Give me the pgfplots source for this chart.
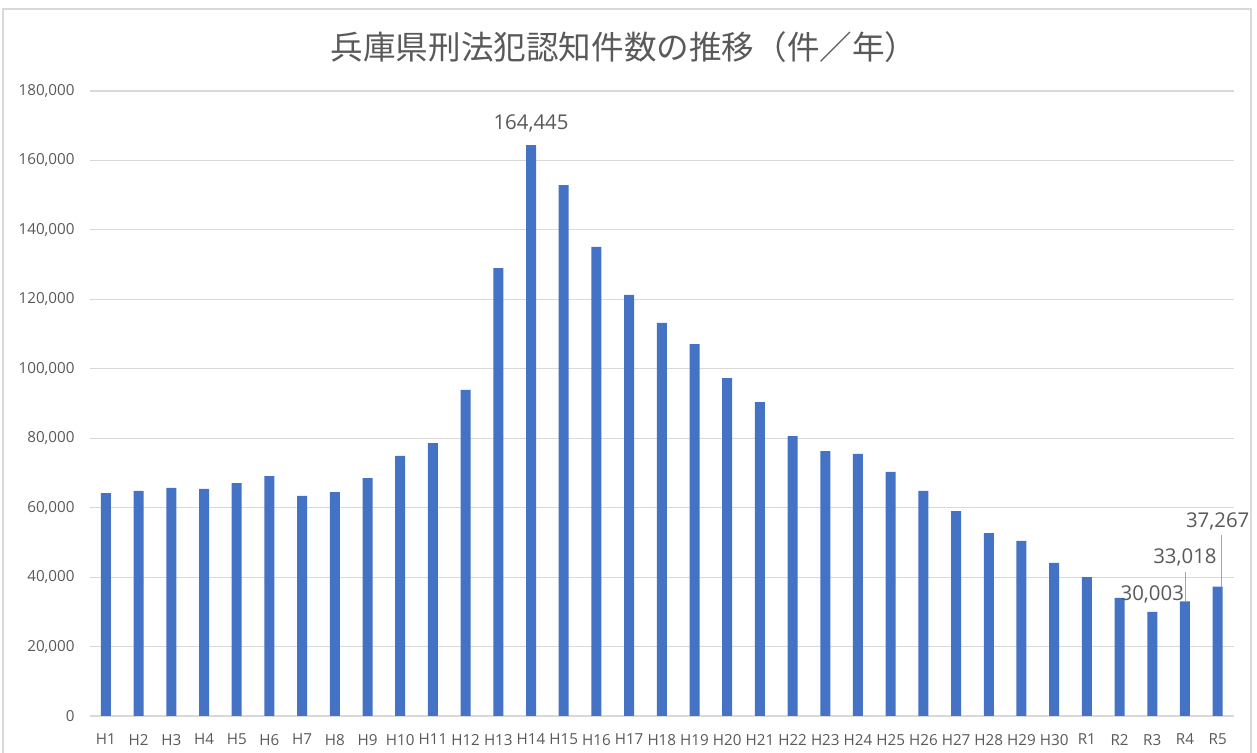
\documentclass[border=0pt]{standalone}
\usepackage{pgfplots}
\pgfplotsset{compat=1.18}
\usepackage{fontspec}
\setmainfont{Open Sans}
\newfontfamily\cjk{Noto Sans CJK JP}
\definecolor{barblue}{HTML}{4472C4}
\definecolor{txtgray}{HTML}{595959}
\definecolor{gridgray}{HTML}{D9D9D9}
\begin{document}
\begin{tikzpicture}[x=1pt,y=1pt]
\useasboundingbox (0,0) rectangle (628.5,376.5);
\draw[gridgray,line width=0.6pt] (1.5,-2) -- (1.5,372) -- (625.5,372) -- (625.5,-2);
\node[text=txtgray,font=\cjk\fontsize{16.3}{18}\selectfont] at (312,353) {兵庫県刑法犯認知件数の推移（件／年）};
\begin{axis}[
  at={(44.8pt,18.5pt)}, anchor=south west,
  scale only axis, width=572.2pt, height=312.5pt,
  xmin=-0.5, xmax=34.5, ymin=0, ymax=180000,
  ybar, bar width=5pt,
  axis line style={draw=none},
  axis x line*=bottom,
  x axis line style={draw=gridgray, line width=0.6pt},
  scaled y ticks=false,
  ytick={0,20000,40000,60000,80000,100000,120000,140000,160000,180000},
  yticklabels={0,{20,000},{40,000},{60,000},{80,000},{100,000},{120,000},{140,000},{160,000},{180,000}},
  xtick={0,...,34},
  xticklabels={H1,H2,H3,H4,H5,H6,H7,H8,H9,H10,H11,H12,H13,H14,H15,H16,H17,H18,H19,H20,H21,H22,H23,H24,H25,H26,H27,H28,H29,H30,R1,R2,R3,R4,R5},
  major tick length=0pt,
  ymajorgrids, grid style={gridgray, line width=0.6pt},
  tick label style={text=txtgray, font=\fontsize{7.6}{9}\selectfont},
  yticklabel style={anchor=east, xshift=-4pt},
  xticklabel style={anchor=north, yshift=-5.5pt},
  clip=false,
]
\addplot[fill=barblue, draw=none] coordinates {
(0,64200) (1,64800) (2,65700) (3,65400) (4,67100) (5,69100) (6,63400) (7,64500) (8,68500) (9,74900)
(10,78600) (11,93900) (12,129000) (13,164445) (14,152900) (15,135100) (16,121300) (17,113200) (18,107100) (19,97300)
(20,90400) (21,80600) (22,76300) (23,75500) (24,70300) (25,64800) (26,59000) (27,52700) (28,50400) (29,44100)
(30,40000) (31,34000) (32,30003) (33,33018) (34,37267)
};
\node[text=txtgray, font=\fontsize{10.2}{12}\selectfont, anchor=south] at (axis cs:13,164445) [yshift=3pt] {164,445};
\node[text=txtgray, font=\fontsize{10.2}{12}\selectfont, anchor=south] at (axis cs:32,30003) [yshift=1pt] {30,003};
\draw[gray!70, line width=0.4pt] (axis cs:33,33018) -- (axis cs:33,41600);
\node[text=txtgray, font=\fontsize{10.2}{12}\selectfont, anchor=south] at (axis cs:33,41600) [yshift=-1pt] {33,018};
\draw[gray!70, line width=0.4pt] (axis cs:34.1,37267) -- (axis cs:34.1,52000);
\node[text=txtgray, font=\fontsize{10.2}{12}\selectfont, anchor=south] at (axis cs:34,52000) [yshift=-1pt] {37,267};
\end{axis}
\end{tikzpicture}
\end{document}
